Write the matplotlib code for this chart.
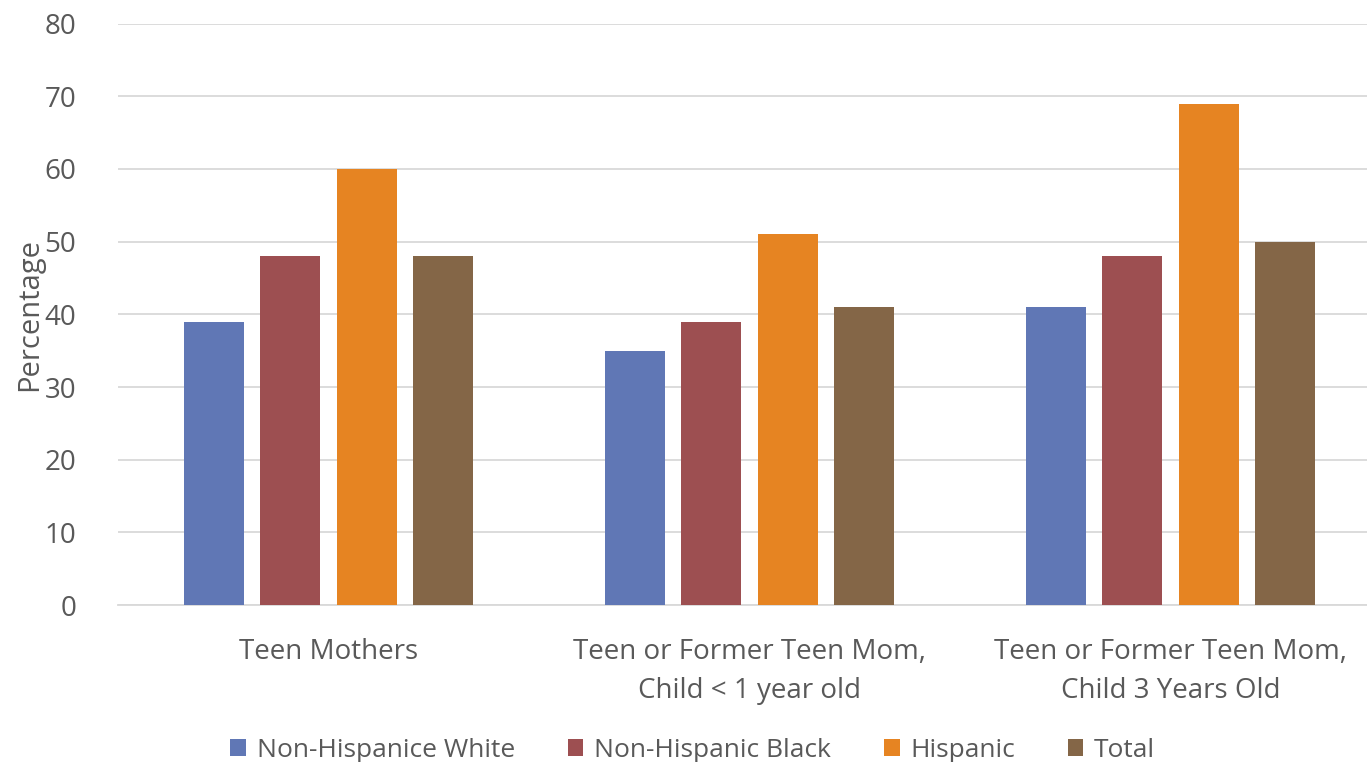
import matplotlib.pyplot as plt
import numpy as np

plt.rcParams['font.family'] = ['Open Sans', 'DejaVu Sans']

CATEGORIAS = ['Teen Mothers',
              'Teen or Former Teen Mom,\nChild < 1 year old',
              'Teen or Former Teen Mom,\nChild 3 Years Old']
SERIES = ['Non-Hispanice White', 'Non-Hispanic Black', 'Hispanic', 'Total']
BRANCO = [39, 35, 41]
NEGRO = [48, 39, 48]
HISPANICO = [60, 51, 69]
TOTAL = [48, 41, 50]
CORES = ['#6077B5', '#9D4F51', '#E68422', '#846647']

valores = [BRANCO, NEGRO, HISPANICO, TOTAL]
cinza = '#595959'

fig = plt.figure(figsize=(13.67, 7.62), dpi=100)
ax = fig.add_axes([0.0863, 0.206, 0.924, 0.763])

x = np.arange(len(CATEGORIAS))
largura = 0.1425
passo = 0.181
for i, serie in enumerate(SERIES):
    ax.bar(x + (i - 1.5) * passo, valores[i], width=largura,
           color=CORES[i], label=serie, zorder=3)

ax.set_xlim(-0.5, 2.5)
ax.set_ylim(0, 80)
ax.set_yticks(range(0, 81, 10))
ax.set_xticks(x)
ax.set_xticklabels(CATEGORIAS, fontsize=20, color=cinza, linespacing=1.5)
ax.tick_params(axis='y', labelsize=20, colors=cinza, length=0, pad=30)
ax.tick_params(axis='x', length=0, pad=24)
ax.grid(True, axis='y', color='#D9D9D9', linewidth=1.3, zorder=0)
for lado in ['top', 'right', 'left']:
    ax.spines[lado].set_visible(False)
ax.spines['bottom'].set_color('#D9D9D9')
ax.spines['bottom'].set_linewidth(1.3)

ax.set_ylabel('Percentage', fontsize=21, color=cinza, labelpad=0)

leg = ax.legend(loc='center', bbox_to_anchor=(0.455, -0.25), ncol=4,
                frameon=False, fontsize=19, handlelength=0.6, handleheight=0.6,
                handletextpad=0.4, columnspacing=2.0)
for t in leg.get_texts():
    t.set_color(cinza)

plt.savefig('out.png', dpi=100)
